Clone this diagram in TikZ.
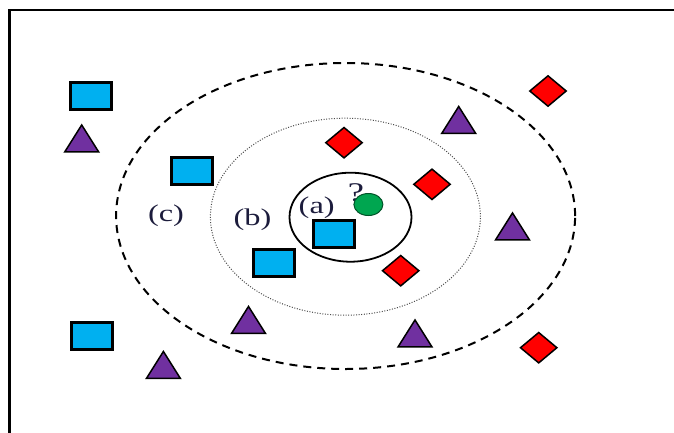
\documentclass[tikz,border=0pt]{standalone}
\usepackage{fontspec}
\setmainfont{Liberation Serif}
\usetikzlibrary{shapes.geometric}
\definecolor{sqcol}{HTML}{00B0F0}
\definecolor{tricol}{HTML}{7030A0}
\definecolor{diacol}{HTML}{FF0000}
\definecolor{grncol}{HTML}{00A650}
\definecolor{txtcol}{HTML}{1C1C3C}
\tikzset{
  sq/.style={rectangle, draw=black, line width=3pt, fill=sqcol, minimum width=41pt, minimum height=27pt, inner sep=0pt},
  tri/.style={isosceles triangle, isosceles triangle stretches, shape border rotate=90, draw=black, line width=1.5pt, fill=tricol, minimum width=34pt, minimum height=27pt, inner sep=0pt, anchor=apex},
  dia/.style={diamond, draw=black, line width=1.5pt, fill=diacol, minimum width=37pt, minimum height=31pt, inner sep=0pt},
  ring/.style={ellipse, inner sep=0pt},
  lbl/.style={text=txtcol, font=\fontsize{24}{26}\selectfont, inner sep=0pt, anchor=base}
}
\newcommand{\wlab}[1]{\scalebox{1.35}[1]{#1}}
\begin{document}
\begin{tikzpicture}[x=1pt,y=-1pt]
\useasboundingbox (0,0) rectangle (674,432);
\clip (0,0) rectangle (674,432);
\draw[line width=2.5pt] (9.5,445) -- (9.5,10) -- (690,10);
% rings
\node[ring, draw=black, line width=2pt, dash pattern=on 8pt off 6pt, minimum width=459pt, minimum height=306pt] (rc) at (345.6,216) {};
\node[ring, draw=black!70, line width=1pt, dash pattern=on 1pt off 1.6pt, minimum width=270pt, minimum height=197pt] (rb) at (345.4,216.7) {};
\node[ring, draw=black, line width=1.8pt, minimum width=122pt, minimum height=89pt] (ra) at (350.5,217.2) {};
% labels
\node[lbl] (lc) at (166,221) {\wlab{(c)}};
\node[lbl] (lb) at (252.5,225.5) {\wlab{(b)}};
\node[lbl] (la) at (316.7,213.5) {\wlab{(a)}};
\node[lbl, font=\fontsize{27}{29}\selectfont] (lq) at (356,201) {\wlab{?}};
% query point
\node[ellipse, draw=black!50!grncol, line width=1pt, fill=grncol, minimum width=29pt, minimum height=22pt, inner sep=0pt] (q) at (368.4,204.5) {};
% squares
\node[sq] (s1) at (91.2,96) {};
\node[sq] (s2) at (192,171) {};
\node[sq] (s3) at (333.5,234) {};
\node[sq] (s4) at (273.7,263) {};
\node[sq] (s5) at (91.5,336) {};
% triangles
\node[tri] (t1) at (81.7,123) {};
\node[tri] (t2) at (458.7,104.5) {};
\node[tri] (t3) at (512.5,211) {};
\node[tri] (t4) at (248.5,304.5) {};
\node[tri] (t5) at (415,318) {};
\node[tri] (t6) at (163.4,349.5) {};
% diamonds
\node[dia] (d1) at (548,91) {};
\node[dia] (d2) at (344,142.7) {};
\node[dia] (d3) at (432,184.3) {};
\node[dia] (d4) at (400.7,270.7) {};
\node[dia] (d5) at (538.7,347.7) {};
\end{tikzpicture}
\end{document}
